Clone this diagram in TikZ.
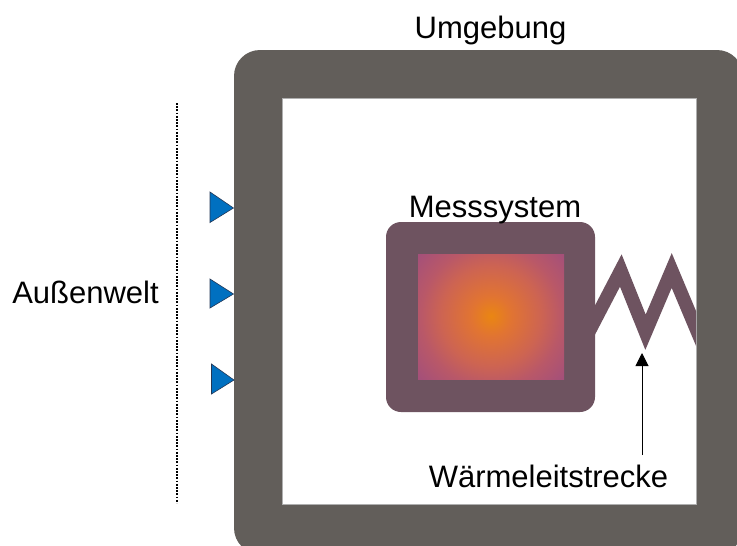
\documentclass[tikz,border=0pt]{standalone}
\usepackage{fontspec}
\setmainfont{Liberation Sans}
\usetikzlibrary{arrows.meta}
\definecolor{framegray}{RGB}{98,94,90}
\definecolor{innerline}{RGB}{175,175,175}
\definecolor{msysc}{RGB}{110,83,96}
\definecolor{blueT}{RGB}{0,112,192}
\definecolor{blueE}{RGB}{35,55,85}
\definecolor{gA}{RGB}{234,134,18}
\definecolor{gB}{RGB}{225,116,50}
\definecolor{gC}{RGB}{205,100,82}
\definecolor{gD}{RGB}{185,88,104}
\definecolor{gE}{RGB}{160,78,125}
\pgfdeclareradialshading{msysglow}{\pgfpoint{0bp}{0bp}}{color(0bp)=(gA); color(5bp)=(gB); color(12.5bp)=(gC); color(17.5bp)=(gD); color(25bp)=(gE); color(50bp)=(gE)}
\begin{document}
\begin{tikzpicture}[x=1pt,y=-1pt,
  lbl/.style={font=\fontsize{31}{37}\selectfont, anchor=base, inner sep=0pt},
  inlet/.style={fill=blueT, draw=blueE, line width=0.6pt, line join=miter},
  zigzag/.style={draw=msysc, line width=13.5pt, line join=miter, miter limit=10}]
\useasboundingbox (0,0) rectangle (737,546);
\clip (0,0) rectangle (737,546);
\fill[white] (0,0) rectangle (737,546);
% Umgebung frame
\fill[framegray, rounded corners=26pt] (234,50) rectangle (743,554);
\filldraw[fill=white, draw=innerline, line width=0.8pt] (282,98) rectangle (696,504);
% heat conduction zigzag
\begin{scope}
  \clip (590,200) rectangle (696,400);
  \path[zigzag] (585,339.2) -- (620.8,270.5) -- (645.5,332.2) -- (671.7,270.5) -- (710,361.7);
\end{scope}
% Messsystem
\fill[msysc, rounded corners=15pt] (386,222) rectangle (595,412);
\begin{scope}
  \clip (418,254) rectangle (564,379);
  \shade[shading=msysglow] (491,316) circle (100pt);
\end{scope}
% inlets from outside
\path[inlet] (210,192) -- (233.5,208) -- (210,222.5) -- cycle;
\path[inlet] (210,279) -- (233.5,294) -- (210,308) -- cycle;
\path[inlet] (211.5,364) -- (234,380) -- (211.5,394) -- cycle;
% dotted boundary
\coordinate (dtop) at (176.7,103);
\coordinate (dbot) at (176.7,503);
\draw[line width=1.6pt, dash pattern=on 1.8pt off 1.4pt] (dtop) -- (dbot);
% arrow to the zigzag
\coordinate (afoot) at (642,455);
\coordinate (atip) at (642,353);
\draw[line width=1pt, -{Triangle[length=13pt,width=13pt]}] (afoot) -- (atip);
% labels
\node[lbl] (umg) at (490.5,38) {Umgebung};
\node[lbl] (aussen) at (85.5,303) {Außenwelt};
\node[lbl] (mess) at (495,217) {Messsystem};
\node[lbl] (waerme) at (548.5,487) {Wärmeleitstrecke};
\end{tikzpicture}
\end{document}
